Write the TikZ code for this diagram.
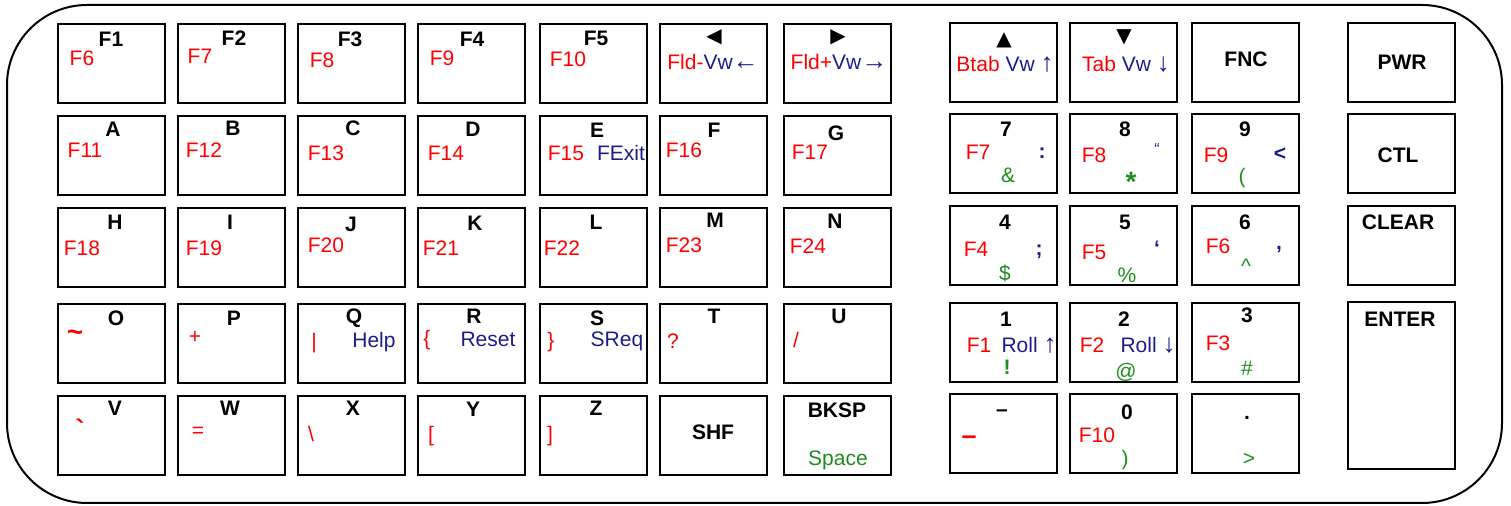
\documentclass[tikz,border=0pt]{standalone}
\usepackage{fontspec}
\setmainfont{Liberation Sans}
\newfontfamily\symbfont{DejaVu Sans}
\newcommand\keyfont{\fontsize{10.5pt}{12pt}\selectfont}
\newcommand\bigmark{\fontsize{14pt}{15pt}\selectfont}
\newcommand\arr[1]{{\fontsize{13pt}{12pt}\selectfont #1}}
\definecolor{keyblue}{RGB}{28,28,140}
\definecolor{keygreen}{RGB}{30,140,30}
\tikzset{
  keycap/.style={draw, line width=1pt, minimum width=53.5pt, minimum height=39.5pt, inner sep=0pt},
  tallcap/.style={keycap, minimum height=83.5pt},
  keyname/.style={font=\keyfont\bfseries, inner sep=0pt},
  fnkey/.style={font=\keyfont, text=red, inner sep=0pt},
  altkey/.style={font=\keyfont, text=keyblue, inner sep=0pt},
  shiftkey/.style={font=\keyfont, text=keygreen, inner sep=0pt},
  arrowmark/.style={font=\symbfont\fontsize{10pt}{11pt}\selectfont, inner sep=0pt}
}
\begin{document}
\begin{tikzpicture}[x=0.5pt,y=-0.5pt]
\useasboundingbox (0,0) rectangle (1511,506);
\draw[line width=1pt, rounded corners=40pt] (7,5) rectangle (1502,503);

% left block, row 1
\node[keycap] (kF1) at (111.5,63.5) {};
\node[keyname] (tF1) at (111,39) {F1};
\node[fnkey] (fF1) at (82,58) {F6};
\node[keycap] (kF2) at (231.5,63.5) {};
\node[keyname] (tF2) at (234,38) {F2};
\node[fnkey] (fF2) at (200,56) {F7};
\node[keycap] (kF3) at (351.5,63.5) {};
\node[keyname] (tF3) at (350,39) {F3};
\node[fnkey] (fF3) at (322,60) {F8};
\node[keycap] (kF4) at (471.5,63.5) {};
\node[keyname] (tF4) at (472,39) {F4};
\node[fnkey] (fF4) at (442,58) {F9};
\node[keycap] (kF5) at (593.5,63.5) {};
\node[keyname] (tF5) at (596,38) {F5};
\node[fnkey] (fF5) at (568,59) {F10};
\node[keycap] (kLeft) at (713.5,63.5) {};
\node[arrowmark] (tLeft) at (714,37) {◀};
\node[fnkey] (fLeft) at (713,62) {Fld-\textcolor{keyblue}{Vw\arr{←}}};
\node[keycap] (kRight) at (837.5,63.5) {};
\node[arrowmark] (tRight) at (838,37) {▶};
\node[fnkey] (fRight) at (839,62) {Fld+\textcolor{keyblue}{Vw\arr{→}}};

% row 2
\node[keycap] (kA) at (111.5,156) {};
\node[keyname] (tA) at (113,129) {A};
\node[fnkey] (fA) at (85,150) {F11};
\node[keycap] (kB) at (231.5,156) {};
\node[keyname] (tB) at (233,128) {B};
\node[fnkey] (fB) at (204,150) {F12};
\node[keycap] (kC) at (351.5,156) {};
\node[keyname] (tC) at (353,128) {C};
\node[fnkey] (fC) at (326,153) {F13};
\node[keycap] (kD) at (471.5,156) {};
\node[keyname] (tD) at (473,129) {D};
\node[fnkey] (fD) at (446,153) {F14};
\node[keycap] (kE) at (593.5,156) {};
\node[keyname] (tE) at (597,130) {E};
\node[fnkey] (fE) at (566,153) {F15};
\node[altkey] (bE) at (621,153) {FExit};
\node[keycap] (kF) at (713.5,156) {};
\node[keyname] (tF) at (714,130) {F};
\node[fnkey] (fF) at (684,150) {F16};
\node[keycap] (kG) at (837.5,156) {};
\node[keyname] (tG) at (836,133) {G};
\node[fnkey] (fG) at (810,152) {F17};

% row 3
\node[keycap] (kH) at (111.5,247.5) {};
\node[keyname] (tH) at (115,222) {H};
\node[fnkey] (fH) at (82,248) {F18};
\node[keycap] (kI) at (231.5,247.5) {};
\node[keyname] (tI) at (230,222) {I};
\node[fnkey] (fI) at (204,248) {F19};
\node[keycap] (kJ) at (351.5,247.5) {};
\node[keyname] (tJ) at (351,224) {J};
\node[fnkey] (fJ) at (326,245) {F20};
\node[keycap] (kK) at (471.5,247.5) {};
\node[keyname] (tK) at (475,223) {K};
\node[fnkey] (fK) at (441,248) {F21};
\node[keycap] (kL) at (593.5,247.5) {};
\node[keyname] (tL) at (596,222) {L};
\node[fnkey] (fL) at (562,248) {F22};
\node[keycap] (kM) at (713.5,247.5) {};
\node[keyname] (tM) at (715,220) {M};
\node[fnkey] (fM) at (684,245) {F23};
\node[keycap] (kN) at (837.5,247.5) {};
\node[keyname] (tN) at (835,221) {N};
\node[fnkey] (fN) at (808,246) {F24};

% row 4
\node[keycap] (kO) at (111.5,343.5) {};
\node[keyname] (tO) at (116,318) {O};
\node[fnkey, font=\bigmark\bfseries] (fO) at (75,336) {\textasciitilde};
\node[keycap] (kP) at (231.5,343.5) {};
\node[keyname] (tP) at (234,318) {P};
\node[fnkey] (fP) at (195,337) {+};
\node[keycap] (kQ) at (351.5,343.5) {};
\node[keyname] (tQ) at (354,318) {Q};
\node[fnkey] (fQ) at (314,343) {|};
\node[altkey] (bQ) at (374,342) {Help};
\node[keycap] (kR) at (471.5,343.5) {};
\node[keyname] (tR) at (474,316) {R};
\node[fnkey] (fR) at (427,340) {\{};
\node[altkey] (bR) at (488,339) {Reset};
\node[keycap] (kS) at (593.5,343.5) {};
\node[keyname] (tS) at (597,318) {S};
\node[fnkey] (fS) at (551,342) {\}};
\node[altkey] (bS) at (617,341) {SReq};
\node[keycap] (kT) at (713.5,343.5) {};
\node[keyname] (tT) at (714,316) {T};
\node[fnkey] (fT) at (673,341) {?};
\node[keycap] (kU) at (837.5,343.5) {};
\node[keyname] (tU) at (839,316) {U};
\node[fnkey] (fU) at (796,340) {/};

% row 5
\node[keycap] (kV) at (111.5,435.5) {};
\node[keyname] (tV) at (115,408) {V};
\node[fnkey, font=\bigmark\bfseries] (fV) at (80,429) {\textasciigrave};
\node[keycap] (kW) at (231.5,435.5) {};
\node[keyname] (tW) at (230,408) {W};
\node[fnkey] (fW) at (198,432) {=};
\node[keycap] (kX) at (351.5,435.5) {};
\node[keyname] (tX) at (353,408) {X};
\node[fnkey] (fX) at (311,434) {\textbackslash};
\node[keycap] (kY) at (471.5,435.5) {};
\node[keyname] (tY) at (473,409) {Y};
\node[fnkey] (fY) at (431,436) {[};
\node[keycap] (kZ) at (593.5,435.5) {};
\node[keyname] (tZ) at (596,408) {Z};
\node[fnkey] (fZ) at (550,436) {]};
\node[keycap] (kSHF) at (713.5,435.5) {};
\node[keyname] (tSHF) at (713,432) {SHF};
\node[keycap] (kBKSP) at (837.5,435.5) {};
\node[keyname] (tBKSP) at (837,410) {BKSP};
\node[shiftkey] (gBKSP) at (838,460) {Space};

% numeric block
\node[keycap] (kUp) at (1003.5,62.5) {};
\node[arrowmark] (tUp) at (1004,40) {▲};
\node[fnkey] (fUp) at (1005,64) {Btab \textcolor{keyblue}{Vw \arr{↑}}};
\node[keycap] (kDown) at (1123.5,62.5) {};
\node[arrowmark] (tDown) at (1124,37) {▼};
\node[fnkey] (fDown) at (1126,64) {Tab \textcolor{keyblue}{Vw \arr{↓}}};
\node[keycap] (kFNC) at (1245.5,62.5) {};
\node[keyname] (tFNC) at (1246,59) {FNC};

\node[keycap] (k7) at (1003.5,153.5) {};
\node[keyname] (t7) at (1006,129) {7};
\node[fnkey] (f7) at (978,152) {F7};
\node[altkey, font=\keyfont\bfseries] (b7) at (1042,153) {:};
\node[shiftkey] (g7) at (1008,175) {\&};
\node[keycap] (k8) at (1123.5,153.5) {};
\node[keyname] (t8) at (1125,129) {8};
\node[fnkey] (f8) at (1094,155) {F8};
\node[altkey, font=\fontsize{8pt}{9pt}\selectfont] (b8) at (1157,149) {“};
\node[shiftkey, font=\bigmark\bfseries] (g8) at (1131,182) {*};
\node[keycap] (k9) at (1245.5,153.5) {};
\node[keyname] (t9) at (1245,129) {9};
\node[fnkey] (f9) at (1216,155) {F9};
\node[altkey, font=\keyfont\bfseries] (b9) at (1280,154) {<};
\node[shiftkey] (g9) at (1242,178) {(};

\node[keycap] (k4) at (1003.5,245.5) {};
\node[keyname] (t4) at (1005,222) {4};
\node[fnkey] (f4) at (976,249) {F4};
\node[altkey, font=\keyfont\bfseries] (b4) at (1039,252) {;};
\node[shiftkey] (g4) at (1005,273) {\$};
\node[keycap] (k5) at (1123.5,245.5) {};
\node[keyname] (t5) at (1125,222) {5};
\node[fnkey] (f5) at (1094,252) {F5};
\node[altkey, font=\keyfont\bfseries] (b5) at (1157,248) {‘};
\node[shiftkey] (g5) at (1127,275) {\%};
\node[keycap] (k6) at (1245.5,245.5) {};
\node[keyname] (t6) at (1245,222) {6};
\node[fnkey] (f6) at (1218,246) {F6};
\node[altkey, font=\keyfont\bfseries] (b6) at (1279,250) {,};
\node[shiftkey] (g6) at (1246,266) {\textasciicircum};

\node[keycap] (k1) at (1003.5,342.5) {};
\node[keyname] (t1) at (1006,319) {1};
\node[fnkey] (f1) at (979,345) {F1};
\node[altkey] (b1) at (1029,345) {Roll \arr{↑}};
\node[shiftkey, font=\keyfont\bfseries] (g1) at (1007,367) {!};
\node[keycap] (k2) at (1123.5,342.5) {};
\node[keyname] (t2) at (1124,319) {2};
\node[fnkey] (f2) at (1092,345) {F2};
\node[altkey] (b2) at (1148,345) {Roll \arr{↓}};
\node[shiftkey] (g2) at (1126,372) {@};
\node[keycap] (k3) at (1245.5,342.5) {};
\node[keyname] (t3) at (1247,315) {3};
\node[fnkey] (f3) at (1218,343) {F3};
\node[shiftkey] (g3) at (1247,368) {\#};

\node[keycap] (kMinus) at (1003.5,433.5) {};
\node[keyname] (tMinus) at (1002,413) {–};
\node[fnkey, font=\fontsize{13.5pt}{14pt}\selectfont\bfseries] (fMinus) at (969,440) {–};
\node[keycap] (k0) at (1123.5,433.5) {};
\node[keyname] (t0) at (1127,412) {0};
\node[fnkey] (f0) at (1097,435) {F10};
\node[shiftkey] (g0) at (1125,460) {)};
\node[keycap] (kDot) at (1245.5,433.5) {};
\node[keyname] (tDot) at (1247,418) {.};
\node[shiftkey] (gDot) at (1249,459) {>};

% control column
\node[keycap] (kPWR) at (1401.5,62.5) {};
\node[keyname] (tPWR) at (1402,62) {PWR};
\node[keycap] (kCTL) at (1401.5,153.5) {};
\node[keyname] (tCTL) at (1398,155) {CTL};
\node[keycap] (kCLEAR) at (1401.5,245.5) {};
\node[keyname] (tCLEAR) at (1398,222) {CLEAR};
\node[tallcap] (kENTER) at (1401.5,385.5) {};
\node[keyname] (tENTER) at (1400,319) {ENTER};
\end{tikzpicture}
\end{document}
